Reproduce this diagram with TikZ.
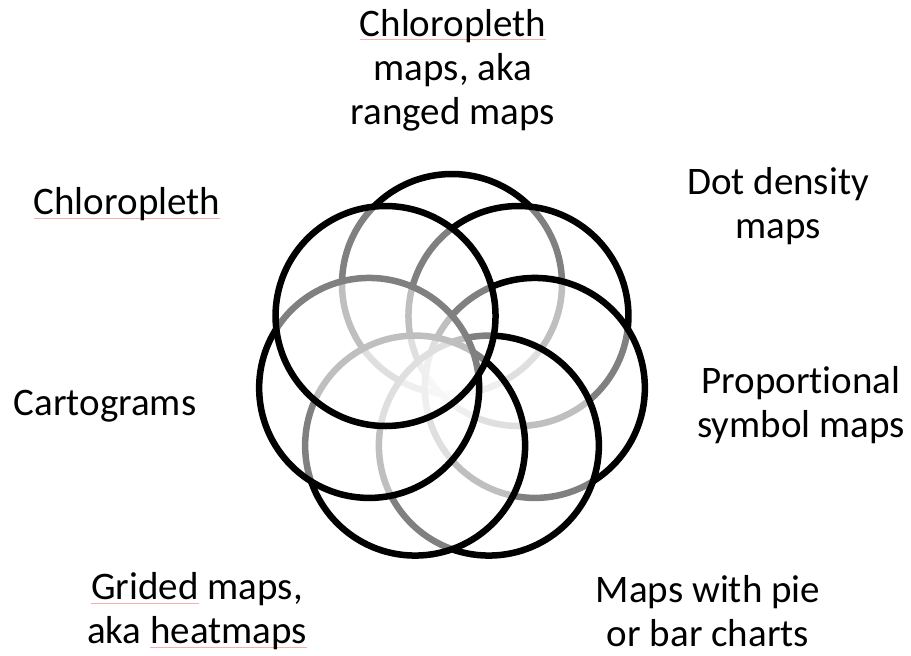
\documentclass[tikz,border=0pt]{standalone}
\usepackage{fontspec}
\setmainfont{Carlito}[Ligatures=NoCommon, RawFeature=-liga]
\usetikzlibrary{calc}
\definecolor{spellred}{HTML}{F4B0B0}
% red squiggle that the spell checker leaves under a word
\newcommand\spellmark[1]{\setbox0=\hbox{#1}\rlap{\color{spellred}\rule[-4pt]{\wd0}{0.8pt}}\box0\relax}

\begin{document}
\begin{tikzpicture}[x=1pt, y=-1pt,
    ring/.style={circle, draw=black, line width=6.5pt, fill=white,
                 fill opacity=0.5, draw opacity=1, minimum size=220pt, inner sep=0pt},
    maptext/.style={align=center, font=\fontsize{39}{44}\selectfont}]
  \useasboundingbox (0,0) rectangle (911,656);
  \coordinate (hub) at (452,369);

  % Seven rings, clockwise from the top; each half-white ring pales the ones below it
  \foreach \k in {0,...,6}
    \node[ring] (ring\k) at ($(hub)+(-90+\k*360/7:85)$) {};

  % Labels round the rings
  \node[maptext] (choro) at (453,70) {\spellmark{Chloropleth}\\maps, aka\\ranged maps};
  \node[maptext] (dot) at (778,206) {Dot density\\maps};
  \node[maptext] (prop) at (801,405) {Proportional\\symbol maps};
  \node[maptext] (pie) at (708,611) {Maps with pie\\or bar charts};
  \node[maptext] (grid) at (197,611) {\spellmark{Grided} maps,\\aka \spellmark{heatmaps}};
  \node[maptext] (carto) at (105,406) {Cartograms};
  \node[maptext] (plain) at (127,204) {\spellmark{Chloropleth}};
\end{tikzpicture}
\end{document}
